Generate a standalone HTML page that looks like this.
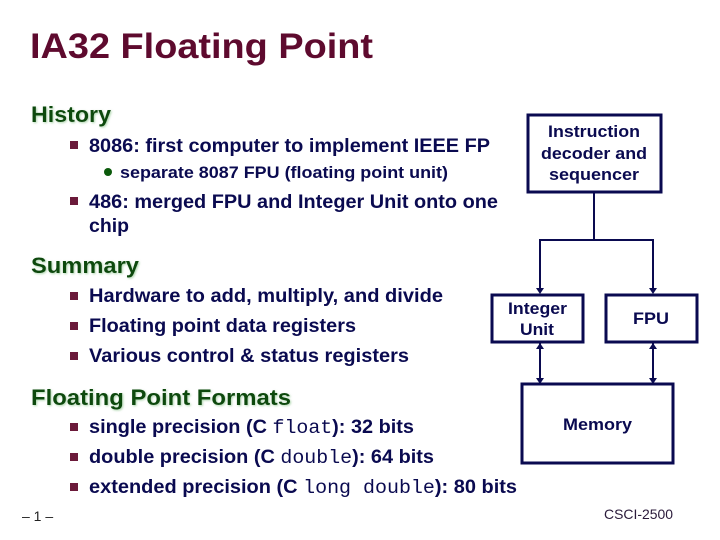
<!DOCTYPE html>
<html><head><meta charset="utf-8"><style>
html,body{margin:0;padding:0;background:#fff;}
svg{display:block;}
.t{font-family:"Liberation Sans",sans-serif;font-weight:bold;fill:#0a0a50;font-size:19px;}
.h{font-family:"Liberation Sans",sans-serif;font-weight:bold;fill:#0b4a0b;font-size:22px;}
.m{font-family:"Liberation Mono",monospace;font-weight:normal;}
.b{fill:#6b1a3a;}
.bx{fill:none;stroke:#0a0a50;stroke-width:3;}
.ln{stroke:#0a0a50;stroke-width:2;fill:none;}
.l{font-family:"Liberation Sans",sans-serif;font-weight:bold;fill:#0a0a50;font-size:16.5px;}
</style></head><body>
<svg width="720" height="540" viewBox="0 0 720 540">
<defs><filter id="s"><feDropShadow dx="1" dy="1" stdDeviation="1" flood-color="#9c9" flood-opacity="0.8"/></filter></defs>
<text x="30" y="58" textLength="343" lengthAdjust="spacingAndGlyphs" style="font-family:'Liberation Sans',sans-serif;font-size:35px;font-weight:bold;fill:#5e0a2e;">IA32 Floating Point</text>
<text class="h" x="31" y="122" textLength="80" lengthAdjust="spacingAndGlyphs" filter="url(#s)">History</text>
<rect class="b" x="70" y="141" width="8" height="8"/>
<text class="t" x="89" y="152" textLength="401" lengthAdjust="spacingAndGlyphs">8086: first computer to implement IEEE FP</text>
<circle cx="108" cy="172" r="4" fill="#0b5a0b"/>
<text class="t" x="120" y="178" textLength="328" lengthAdjust="spacingAndGlyphs" style="font-size:16.5px">separate 8087 FPU (floating point unit)</text>
<rect class="b" x="70" y="197" width="8" height="8"/>
<text class="t" x="89" y="208" textLength="409" lengthAdjust="spacingAndGlyphs">486: merged FPU and Integer Unit onto one</text>
<text class="t" x="89" y="232" textLength="40" lengthAdjust="spacingAndGlyphs">chip</text>
<text class="h" x="31" y="273" textLength="108" lengthAdjust="spacingAndGlyphs" filter="url(#s)">Summary</text>
<rect class="b" x="70" y="292" width="8" height="8"/>
<text class="t" x="89" y="302" textLength="354" lengthAdjust="spacingAndGlyphs">Hardware to add, multiply, and divide</text>
<rect class="b" x="70" y="322" width="8" height="8"/>
<text class="t" x="89" y="332" textLength="267" lengthAdjust="spacingAndGlyphs">Floating point data registers</text>
<rect class="b" x="70" y="352" width="8" height="8"/>
<text class="t" x="89" y="362" textLength="320" lengthAdjust="spacingAndGlyphs">Various control &amp; status registers</text>
<text class="h" x="31" y="405" textLength="260" lengthAdjust="spacingAndGlyphs" filter="url(#s)">Floating Point Formats</text>
<rect class="b" x="70" y="423" width="8" height="8"/>
<text class="t" x="89" y="433" textLength="325" lengthAdjust="spacingAndGlyphs">single precision (C <tspan class="m">float</tspan>): 32 bits</text>
<rect class="b" x="70" y="453" width="8" height="8"/>
<text class="t" x="89" y="463" textLength="345" lengthAdjust="spacingAndGlyphs">double precision (C <tspan class="m">double</tspan>): 64 bits</text>
<rect class="b" x="70" y="483" width="8" height="8"/>
<text class="t" x="89" y="493" textLength="428" lengthAdjust="spacingAndGlyphs">extended precision (C <tspan class="m">long double</tspan>): 80 bits</text>
<text x="22" y="521" style="font-family:'Liberation Sans',sans-serif;font-size:14px;fill:#222;">– 1 –</text>
<text x="604" y="519" textLength="69" lengthAdjust="spacingAndGlyphs" style="font-family:'Liberation Sans',sans-serif;font-size:14px;fill:#2a1a3a;">CSCI-2500</text>

<rect class="bx" x="528" y="115" width="133" height="77"/>
<text class="l" x="548" y="137" textLength="92" lengthAdjust="spacingAndGlyphs">Instruction</text>
<text class="l" x="541" y="159" textLength="106" lengthAdjust="spacingAndGlyphs">decoder and</text>
<text class="l" x="549" y="180" textLength="90" lengthAdjust="spacingAndGlyphs">sequencer</text>
<line class="ln" x1="594" y1="192" x2="594" y2="240"/>
<polyline class="ln" points="540,290 540,240 653,240 653,290"/>
<path d="M536,288 L544,288 L540,294Z M649,288 L657,288 L653,294Z" fill="#0a0a50"/>
<rect class="bx" x="492" y="295" width="91" height="47"/>
<text class="l" x="508" y="314" textLength="59" lengthAdjust="spacingAndGlyphs">Integer</text>
<text class="l" x="520" y="335" textLength="34" lengthAdjust="spacingAndGlyphs">Unit</text>
<rect class="bx" x="606" y="295" width="91" height="47"/>
<text class="l" x="633" y="324" textLength="36" lengthAdjust="spacingAndGlyphs">FPU</text>
<line class="ln" x1="540" y1="343" x2="540" y2="384"/>
<line class="ln" x1="653" y1="343" x2="653" y2="384"/>
<path d="M536,349 L544,349 L540,343Z M649,349 L657,349 L653,343Z M536,378 L544,378 L540,384Z M649,378 L657,378 L653,384Z" fill="#0a0a50"/>
<rect class="bx" x="522" y="384" width="151" height="79"/>
<text class="l" x="563" y="430" textLength="69" lengthAdjust="spacingAndGlyphs">Memory</text>
</svg>
</body></html>
